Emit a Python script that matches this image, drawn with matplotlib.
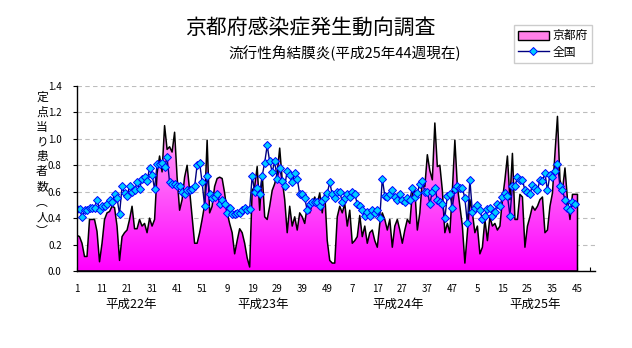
"""
京都府感染症発生動向調査 — 流行性角結膜炎 (平成22年1週〜平成25年)
632×348 PNG
"""
import numpy as np
import matplotlib
matplotlib.use('Agg')
import matplotlib.pyplot as plt
from matplotlib.patches import Patch
from matplotlib.lines import Line2D
from matplotlib.colors import LinearSegmentedColormap

plt.rcParams['font.family'] = ['Noto Sans CJK JP', 'DejaVu Sans']
plt.rcParams['axes.unicode_minus'] = False

# ─── データ (定点当り患者数, 週ごと) ─────────────────────
# 京都府: 平成22年1週 〜 平成25年45週
kyoto = [
    .27, .26, .21, .11, .11, .39, .39, .39, .30, .07,
    .21, .39, .44, .45, .49, .48, .34, .08, .26, .29,
    .31, .39, .49, .32, .32, .39, .34, .36, .29, .40,
    .34, .39, .74, .87, .75, 1.10, .92, .94, .90, 1.05,
    .71, .46, .54, .71, .80, .61, .41, .21, .21, .29,
    .39, .50, .99, .44, .49, .64, .70, .71, .70, .59,
    .44, .36, .29, .13, .23, .32, .29, .21, .10, .03,
    .61, .64, .79, .46, .74, .41, .39, .49, .61, .66,
    .74, .93, .69, .54, .29, .49, .34, .41, .31, .44,
    .41, .36, .49, .44, .51, .56, .51, .59, .44, .59,
    .23, .08, .06, .06, .41, .49, .44, .51, .34, .46,
    .21, .23, .26, .42, .26, .34, .21, .29, .31, .23,
    .18, .36, .44, .39, .31, .39, .18, .34, .39, .31,
    .21, .31, .39, .36, .59, .61, .31, .44, .69, .64,
    .88, .76, .69, 1.12, .79, .80, .61, .29, .36, .29,
    .61, .99, .64, .49, .34, .06, .29, .54, .44, .29,
    .34, .13, .18, .39, .23, .41, .34, .36, .31, .34,
    .54, .69, .87, .54, .89, .39, .39, .58, .56, .18,
    .34, .41, .49, .46, .49, .54, .56, .29, .31, .49,
    .59, .89, 1.17, .69, .61, .78, .54, .39, .58, .58,
    .58,
]
# 全国: 平成22年1週 〜 平成25年44週
zenkoku = [
    .47, .47, .41, .46, .46, .48, .48, .48, .54, .46,
    .49, .49, .51, .54, .52, .58, .55, .43, .64, .59,
    .57, .64, .60, .61, .67, .62, .70, .71, .68, .78,
    .73, .62, .81, .81, .82, .79, .86, .67, .66, .66,
    .64, .64, .60, .58, .61, .61, .62, .64, .80, .82,
    .67, .49, .72, .58, .55, .56, .58, .51, .54, .51,
    .44, .48, .43, .43, .44, .44, .46, .48, .46, .47,
    .72, .60, .63, .58, .72, .82, .95, .83, .75, .83,
    .70, .78, .68, .64, .76, .73, .67, .74, .70, .58,
    .58, .55, .46, .51, .52, .52, .52, .49, .53, .55,
    .59, .67, .58, .55, .60, .60, .52, .55, .58, .56,
    .60, .58, .51, .49, .46, .42, .45, .42, .46, .44,
    .46, .40, .70, .57, .56, .58, .61, .56, .54, .58,
    .54, .52, .55, .54, .63, .56, .59, .66, .68, .60,
    .60, .51, .60, .63, .54, .52, .51, .40, .57, .58,
    .48, .62, .64, .63, .63, .55, .36, .69, .45, .48,
    .50, .46, .39, .42, .47, .48, .42, .45, .51, .49,
    .56, .59, .57, .42, .64, .64, .71, .69, .69, .61,
    .60, .58, .65, .63, .61, .69, .68, .74, .61, .73,
    .71, .76, .81, .64, .61, .54, .48, .46, .52, .51,
]

week_labels = ['1', '11', '21', '31', '41', '51',
               '9', '19', '29', '39', '49',
               '7', '17', '27', '37', '47',
               '5', '15', '25', '35', '45']
year_labels = ['平成22年', '平成23年', '平成24年', '平成25年']
year_pos = [21.5, 74.5, 128.5, 183]     # 週インデックス上のラベル中心
y_ticks = [0.0, 0.2, 0.4, 0.6, 0.8, 1.0, 1.2, 1.4]
ylabel_chars = ['定', '点', '当', 'り', '患', '者', '数', '︵', '人', '︶']

# ─── 色 ───────────────────────────────────────────────
MAGENTA = '#FF00FF'
PINK_TOP = '#FFB4F4'
NAVY = '#000080'
CYAN = '#00CCFF'
BLUE = '#0000FF'
GRID = '#BDBDBD'

fig = plt.figure(figsize=(6.32, 3.48), dpi=100, facecolor='white')
ax = fig.add_axes([77 / 632, 77 / 348, 518 / 632, 185 / 348])

xk = np.arange(len(kyoto))
xz = np.arange(len(zenkoku))

# 京都府 — グラデーション塗りの面グラフ
poly = ax.fill_between(xk, kyoto, 0, facecolor='none', edgecolor='black',
                       linewidth=1.1, zorder=3)
cmap = LinearSegmentedColormap.from_list('kpink', [MAGENTA, PINK_TOP])
grad = np.linspace(0, 1, 256).reshape(-1, 1)
im = ax.imshow(grad, cmap=cmap, aspect='auto', origin='lower',
               extent=[0, len(kyoto) - 1, 0, 1.2], zorder=2,
               interpolation='bilinear')
im.set_clip_path(poly.get_paths()[0], transform=ax.transData)

# 全国 — 折れ線 + ひし形マーカー
ax.plot(xz, zenkoku, color=NAVY, linewidth=1.0, marker='D', markersize=4,
        markerfacecolor=CYAN, markeredgecolor=BLUE, markeredgewidth=0.7,
        zorder=4)

# ─── 軸 ──────────────────────────────────────────────
ax.set_xlim(0, 207)
ax.set_ylim(0, 1.4)
ax.set_yticks(y_ticks)
ax.set_yticklabels([f'{v:.1f}' for v in y_ticks], fontsize=7)
ax.set_xticks(np.arange(0, 10 * len(week_labels), 10))
ax.set_xticklabels(week_labels, fontsize=7)
ax.set_xticks(np.arange(5, 207, 10), minor=True)
ax.tick_params(axis='x', which='both', direction='in', length=3, pad=9,
               width=0.8)
ax.tick_params(axis='y', direction='out', length=3, pad=8, width=0.8)

for s in ['top', 'right']:
    ax.spines[s].set_visible(False)
for s in ['left', 'bottom']:
    ax.spines[s].set_linewidth(1.0)
    ax.spines[s].set_zorder(5)

ax.yaxis.grid(True, color=GRID, linestyle=(0, (4, 3)), linewidth=0.8)
ax.set_axisbelow(True)

for lab, pos in zip(year_labels, year_pos):
    ax.text(pos, -0.18, lab, transform=ax.get_xaxis_transform(),
            ha='center', va='center', fontsize=9)

# 縦書き軸ラベル (1文字ずつ縦に並べる)
for k, ch in enumerate(ylabel_chars):
    fig.text(42 / 632, 1 - (97 + k * 15) / 348, ch,
             ha='center', va='center', fontsize=8.5)

# ─── タイトル ──────────────────────────────────────────
fig.text(310 / 632, 1 - 28 / 348, '京都府感染症発生動向調査',
         ha='center', va='center', fontsize=15)
fig.text(345 / 632, 1 - 53 / 348, '流行性角結膜炎(平成25年44週現在)',
         ha='center', va='center', fontsize=10.5)

# ─── 凡例 ──────────────────────────────────────────────
handles = [
    Patch(facecolor='#FF80E8', edgecolor='black', linewidth=1.0),
    Line2D([], [], color=NAVY, linewidth=1.0, marker='D', markersize=4,
           markerfacecolor=CYAN, markeredgecolor=BLUE, markeredgewidth=0.7),
]
leg = fig.legend(handles, ['京都府', '全国'], loc='upper left',
                 bbox_to_anchor=(514 / 632, 1 - 25 / 348), fontsize=8.5,
                 frameon=True, fancybox=False, edgecolor='#C0C0C0',
                 handlelength=2.6, handleheight=0.8, handletextpad=0.3,
                 borderpad=0.35, labelspacing=0.3, borderaxespad=0)
leg.get_frame().set_linewidth(1.0)

fig.savefig('out.png', dpi=100, facecolor='white')
